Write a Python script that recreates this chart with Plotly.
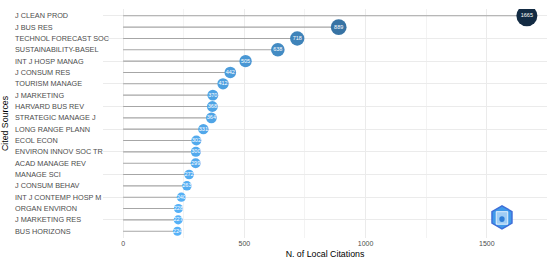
import math
import plotly.graph_objects as go

sources = ["J CLEAN PROD", "J BUS RES", "TECHNOL FORECAST SOC", "SUSTAINABILITY-BASEL",
           "INT J HOSP MANAG", "J CONSUM RES", "TOURISM MANAGE", "J MARKETING",
           "HARVARD BUS REV", "STRATEGIC MANAGE J", "LONG RANGE PLANN", "ECOL ECON",
           "ENVIRON INNOV SOC TR", "ACAD MANAGE REV", "MANAGE SCI", "J CONSUM BEHAV",
           "INT J CONTEMP HOSP M", "ORGAN ENVIRON", "J MARKETING RES", "BUS HORIZONS"]
citations = [1665, 889, 718, 638, 505, 442, 412, 370, 368, 364, 331, 302, 300, 299,
             272, 263, 240, 228, 227, 224]
x_ticks = [0, 500, 1000, 1500]

# stems from 0 to value
sx, sy = [], []
for s, v in zip(sources, citations):
    sx += [0, v, None]
    sy += [s, s, None]

vmin, vmax = min(citations), max(citations)
sizes = [(25 + 0.25 * v) ** 0.5 for v in citations]

fig = go.Figure()
fig.add_trace(go.Scatter(x=sx, y=sy, mode="lines",
                         line=dict(color="#A6A6A6", width=1.1),
                         hoverinfo="skip", showlegend=False))
fig.add_trace(go.Scatter(
    x=citations, y=sources, mode="markers+text",
    marker=dict(size=sizes, color=citations, cmin=vmin, cmax=vmax, opacity=1,
                colorscale=[[0, "#56B1F7"], [1, "#132B43"]], line=dict(width=0)),
    text=[str(v) for v in citations], textposition="middle center",
    textfont=dict(color="white", size=5.5, family="Liberation Sans"),
    showlegend=False))

# left-aligned source labels
for s in sources:
    fig.add_annotation(x=-0.2027, xref="paper", y=s, yref="y", text=s,
                       showarrow=False, xanchor="left",
                       font=dict(size=7.3, color="#4D4D4D", family="Liberation Sans"))

# logo-like hexagon
cx, cy, r = 0.8986, 0.09, 0.026
pts = []
for k in range(6):
    a = math.pi / 2 + k * math.pi / 3
    pts.append((cx + r * math.cos(a), cy + r * math.sin(a) * 444 / 229))
path = "M " + " L ".join(f"{px:.4f},{py:.4f}" for px, py in pts) + " Z"
fig.add_shape(type="path", xref="paper", yref="paper", path=path,
              fillcolor="#3F9AEA", line=dict(color="#3F6FD8", width=1.5))
fig.add_shape(type="rect", xref="paper", yref="paper",
              x0=cx - 0.013, x1=cx + 0.013, y0=cy - 0.03, y1=cy + 0.025,
              fillcolor="rgba(255,255,255,0.5)", line=dict(color="white", width=0.8))
fig.add_shape(type="circle", xref="paper", yref="paper",
              x0=cx - 0.006, x1=cx + 0.006, y0=cy - 0.02, y1=cy + 0.005,
              fillcolor="#2F7FD8", line=dict(width=0))

fig.update_layout(
    width=550, height=262,
    margin=dict(l=103, r=3, t=9, b=24),
    paper_bgcolor="white", plot_bgcolor="white",
    font=dict(family="Liberation Sans", color="black"),
    xaxis=dict(range=[-83, 1748], tickvals=x_ticks, ticks="", showline=False,
               zeroline=False, gridcolor="#EBEBEB", gridwidth=1,
               minor=dict(dtick=250, tick0=0, showgrid=True, gridcolor="#F3F3F3", gridwidth=0.6),
               tickfont=dict(size=7, color="#4D4D4D"), automargin=False,
               title=dict(text="N. of Local Citations", font=dict(size=8.8), standoff=4)),
    yaxis=dict(categoryorder="array", categoryarray=sources, autorange=False,
               range=[len(sources) - 0.4, -0.6], showticklabels=False, ticks="",
               showline=False, zeroline=False, gridcolor="#EBEBEB", gridwidth=1,
               automargin=False,
               title=dict(text="Cited Sources", font=dict(size=8.8), standoff=91)),
)

fig.write_html("out.html", config={"displayModeBar": False},
               post_script="document.body.style.margin='0';")
